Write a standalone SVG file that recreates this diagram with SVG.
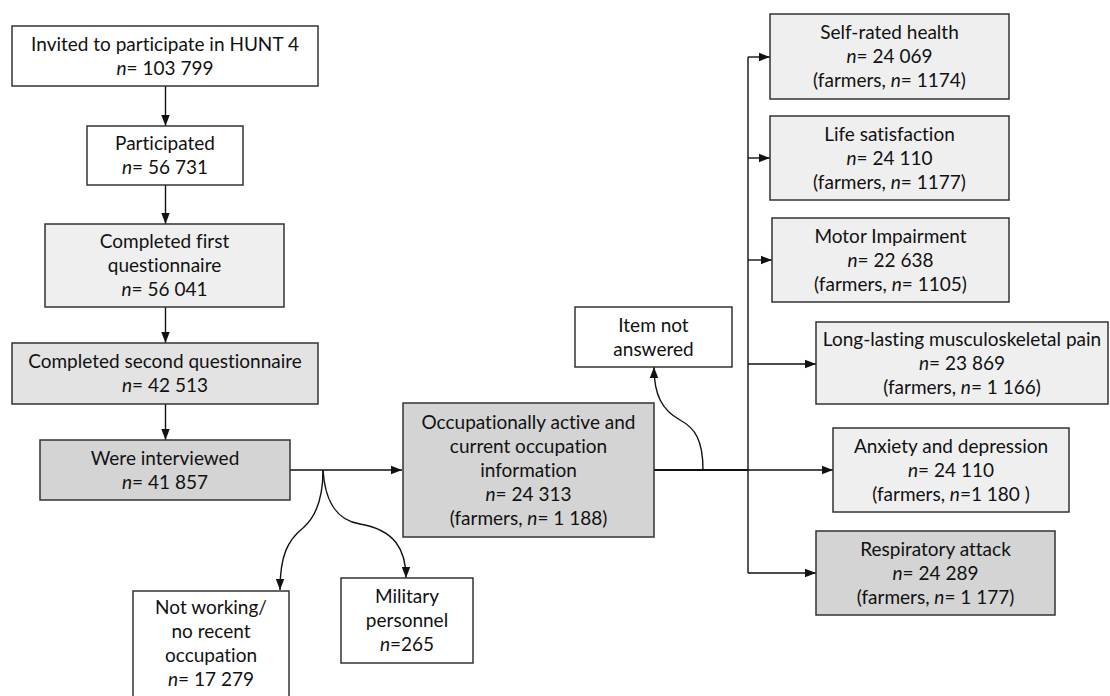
<svg xmlns="http://www.w3.org/2000/svg" width="1110" height="696" viewBox="0 0 1110 696">
<style>
.box{stroke:#333;stroke-width:1.5}
.w{fill:#fff}
.g1{fill:#efefef}
.g2{fill:#e3e3e3}
.g3{fill:#d4d4d4}
.t{font-family:Lato,"Liberation Sans",sans-serif;font-size:19px;text-anchor:middle;fill:#111;font-variant-ligatures:none;font-feature-settings:"liga" 0}
.i{font-style:italic}
.c{fill:none;stroke:#111;stroke-width:1.4}
.thick{stroke-width:2.2}
</style>
<defs>
<marker id="ah" markerUnits="userSpaceOnUse" markerWidth="11" markerHeight="10" viewBox="0 0 11 10" refX="11" refY="5" orient="auto">
<path d="M0,0.8 L11,5 L0,9.2 Z" fill="#111"/>
</marker>
</defs>
<rect width="1110" height="696" fill="#fff"/>
<g id="connectors">
<path class="c" d="M165.5,86 V126" marker-end="url(#ah)"/>
<path class="c" d="M165.5,185 V224" marker-end="url(#ah)"/>
<path class="c" d="M165.5,307 V343" marker-end="url(#ah)"/>
<path class="c" d="M165.5,404 V440" marker-end="url(#ah)"/>
<path class="c" d="M290,470 H402" marker-end="url(#ah)"/>
<path class="c" d="M323,470 C323,495 318,515 303,528 C288,540 280,555 280,590" marker-end="url(#ah)"/>
<path class="c" d="M323,470 C325,500 335,520 360,524 C395,530 406,550 406,578" marker-end="url(#ah)"/>
<path class="c thick" d="M654,470 H748"/>
<path class="c" d="M748,470 H833" marker-end="url(#ah)"/>
<path class="c" d="M703,470 C703,440 695,428 680,420 C662,410 654,395 654,367" marker-end="url(#ah)"/>
<path class="c" d="M748,57 V573"/>
<path class="c" d="M748,57 H770" marker-end="url(#ah)"/>
<path class="c" d="M748,158 H770" marker-end="url(#ah)"/>
<path class="c" d="M748,260 H772" marker-end="url(#ah)"/>
<path class="c" d="M748,364 H816" marker-end="url(#ah)"/>
<path class="c" d="M748,573 H816" marker-end="url(#ah)"/>
</g>
<g id="invited">
<rect class="box w" x="12" y="26" width="306" height="60"/>
<text class="t" x="165" y="50.5">Invited to participate in HUNT 4</text>
<text class="t" x="165" y="74.5"><tspan class="i">n</tspan>= 103 799</text>
</g>
<g id="participated">
<rect class="box w" x="87" y="126" width="156" height="59"/>
<text class="t" x="165" y="150">Participated</text>
<text class="t" x="165" y="174"><tspan class="i">n</tspan>= 56 731</text>
</g>
<g id="first-questionnaire">
<rect class="box g1" x="45" y="224" width="239" height="83"/>
<text class="t" x="164.5" y="248">Completed first</text>
<text class="t" x="164.5" y="272">questionnaire</text>
<text class="t" x="164.5" y="296"><tspan class="i">n</tspan>= 56 041</text>
</g>
<g id="second-questionnaire">
<rect class="box g2" x="12" y="343" width="306" height="61"/>
<text class="t" x="165" y="368">Completed second questionnaire</text>
<text class="t" x="165" y="392"><tspan class="i">n</tspan>= 42 513</text>
</g>
<g id="interviewed">
<rect class="box g3" x="40" y="440" width="250" height="60"/>
<text class="t" x="165" y="464.5">Were interviewed</text>
<text class="t" x="165" y="488.5"><tspan class="i">n</tspan>= 41 857</text>
</g>
<g id="not-working">
<rect class="box w" x="133" y="591" width="156" height="120"/>
<text class="t" x="211" y="614">Not working/</text>
<text class="t" x="211" y="638">no recent</text>
<text class="t" x="211" y="662">occupation</text>
<text class="t" x="211" y="686"><tspan class="i">n</tspan>= 17 279</text>
</g>
<g id="military">
<rect class="box w" x="341" y="578" width="132" height="85"/>
<text class="t" x="407" y="603">Military</text>
<text class="t" x="407" y="627">personnel</text>
<text class="t" x="407" y="651"><tspan class="i">n</tspan>=265</text>
</g>
<g id="occupationally-active">
<rect class="box g3" x="403" y="403" width="251" height="134"/>
<text class="t" x="528.5" y="428.5">Occupationally active and</text>
<text class="t" x="528.5" y="452.5">current occupation</text>
<text class="t" x="528.5" y="476.5">information</text>
<text class="t" x="528.5" y="500.5"><tspan class="i">n</tspan>= 24 313</text>
<text class="t" x="528.5" y="524.5">(farmers, <tspan class="i">n</tspan>= 1 188)</text>
</g>
<g id="item-not-answered">
<rect class="box w" x="575" y="307" width="157" height="60"/>
<text class="t" x="653.5" y="331.5">Item not</text>
<text class="t" x="653.5" y="355.5">answered</text>
</g>
<g id="self-rated-health">
<rect class="box g1" x="770" y="14" width="239" height="85"/>
<text class="t" x="889.5" y="39">Self-rated health</text>
<text class="t" x="889.5" y="63"><tspan class="i">n</tspan>= 24 069</text>
<text class="t" x="889.5" y="87">(farmers, <tspan class="i">n</tspan>= 1174)</text>
</g>
<g id="life-satisfaction">
<rect class="box g1" x="770" y="116" width="239" height="84"/>
<text class="t" x="889.5" y="140.5">Life satisfaction</text>
<text class="t" x="889.5" y="164.5"><tspan class="i">n</tspan>= 24 110</text>
<text class="t" x="889.5" y="188.5">(farmers, <tspan class="i">n</tspan>= 1177)</text>
</g>
<g id="motor-impairment">
<rect class="box g1" x="772" y="218" width="237" height="84"/>
<text class="t" x="890.5" y="242.5">Motor Impairment</text>
<text class="t" x="890.5" y="266.5"><tspan class="i">n</tspan>= 22 638</text>
<text class="t" x="890.5" y="290.5">(farmers, <tspan class="i">n</tspan>= 1105)</text>
</g>
<g id="musculoskeletal-pain">
<rect class="box g1" x="816" y="322" width="292" height="82"/>
<text class="t" x="962" y="345.5">Long-lasting musculoskeletal pain</text>
<text class="t" x="962" y="369.5"><tspan class="i">n</tspan>= 23 869</text>
<text class="t" x="962" y="393.5">(farmers, <tspan class="i">n</tspan>= 1 166)</text>
</g>
<g id="anxiety-depression">
<rect class="box g1" x="833" y="428" width="236" height="84"/>
<text class="t" x="951" y="452.5">Anxiety and depression</text>
<text class="t" x="951" y="476.5"><tspan class="i">n</tspan>= 24 110</text>
<text class="t" x="951" y="500.5">(farmers, <tspan class="i">n</tspan>=1 180 )</text>
</g>
<g id="respiratory-attack">
<rect class="box g3" x="816" y="531" width="239" height="84"/>
<text class="t" x="935.5" y="555.5">Respiratory attack</text>
<text class="t" x="935.5" y="579.5"><tspan class="i">n</tspan>= 24 289</text>
<text class="t" x="935.5" y="603.5">(farmers, <tspan class="i">n</tspan>= 1 177)</text>
</g>
</svg>
